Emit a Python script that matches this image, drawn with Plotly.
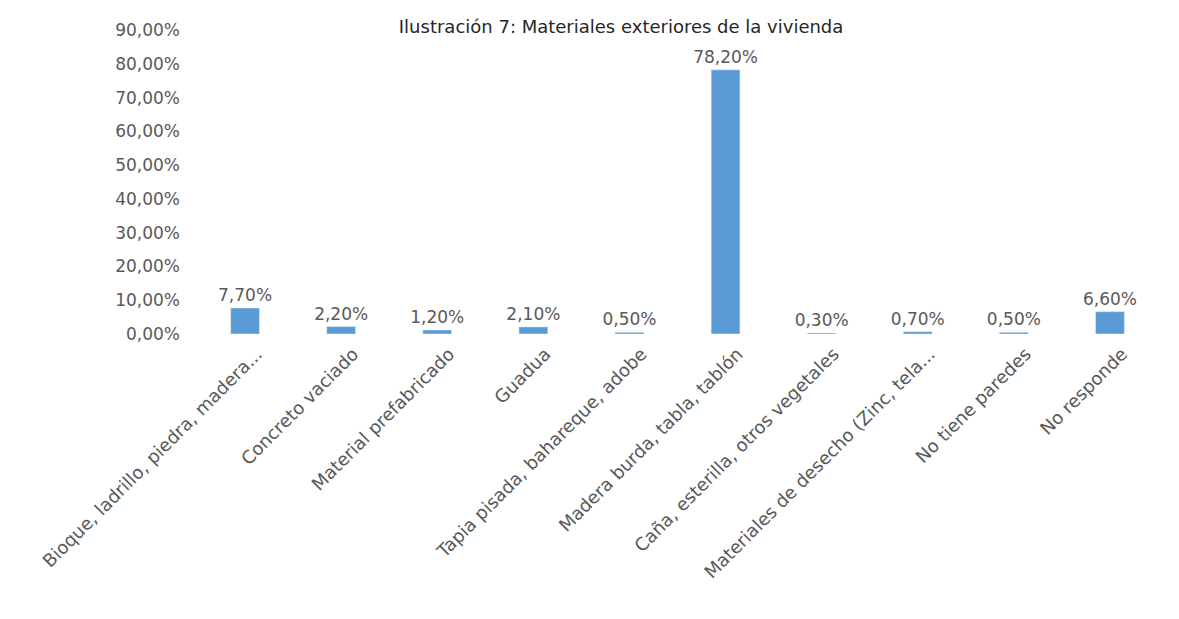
import plotly.graph_objects as go

categories = [
    "Bioque, ladrillo, piedra, madera...",
    "Concreto vaciado",
    "Material prefabricado",
    "Guadua",
    "Tapia pisada, bahareque, adobe",
    "Madera burda, tabla, tablón",
    "Caña, esterilla, otros vegetales",
    "Materiales de desecho (Zinc, tela...",
    "No tiene paredes",
    "No responde",
]
values = [0.077, 0.022, 0.012, 0.021, 0.005, 0.782, 0.003, 0.007, 0.005, 0.066]
title_text = "Ilustración 7: Materiales exteriores de la vivienda"
ytick_vals = [i / 10 for i in range(10)]

FONT = "DejaVu Sans"

fig = go.Figure()
fig.add_trace(go.Bar(
    x=categories,
    y=values,
    marker=dict(color="#5b9bd5"),
    texttemplate="%{y:.2%}",
    textposition="outside",
    constraintext="none",
    textfont=dict(size=17, color="#595959", family=FONT),
    cliponaxis=False,
))

fig.update_layout(
    width=1179, height=619,
    margin=dict(l=189, r=29, t=22, b=293),
    paper_bgcolor="white",
    plot_bgcolor="white",
    separators=",.",
    bargap=0.7,
    showlegend=False,
    font=dict(family=FONT, color="#595959", size=17),
    title=dict(text=title_text, x=0.52, xanchor="center", y=0.98, yanchor="top",
               yref="container",
               font=dict(size=18, color="#262626", family=FONT)),
)
fig.update_xaxes(tickangle=-45, showline=False, ticks="",
                 ticklabelshift=12, ticklabelstandoff=5,
                 tickfont=dict(size=18, color="#595959", family=FONT))
fig.update_yaxes(range=[0, 0.9], tickvals=ytick_vals, tickformat=".2%", showgrid=False,
                 zeroline=False, showline=False, ticklabelstandoff=16,
                 tickfont=dict(size=17, color="#595959", family=FONT))

fig.write_html("out.html")
